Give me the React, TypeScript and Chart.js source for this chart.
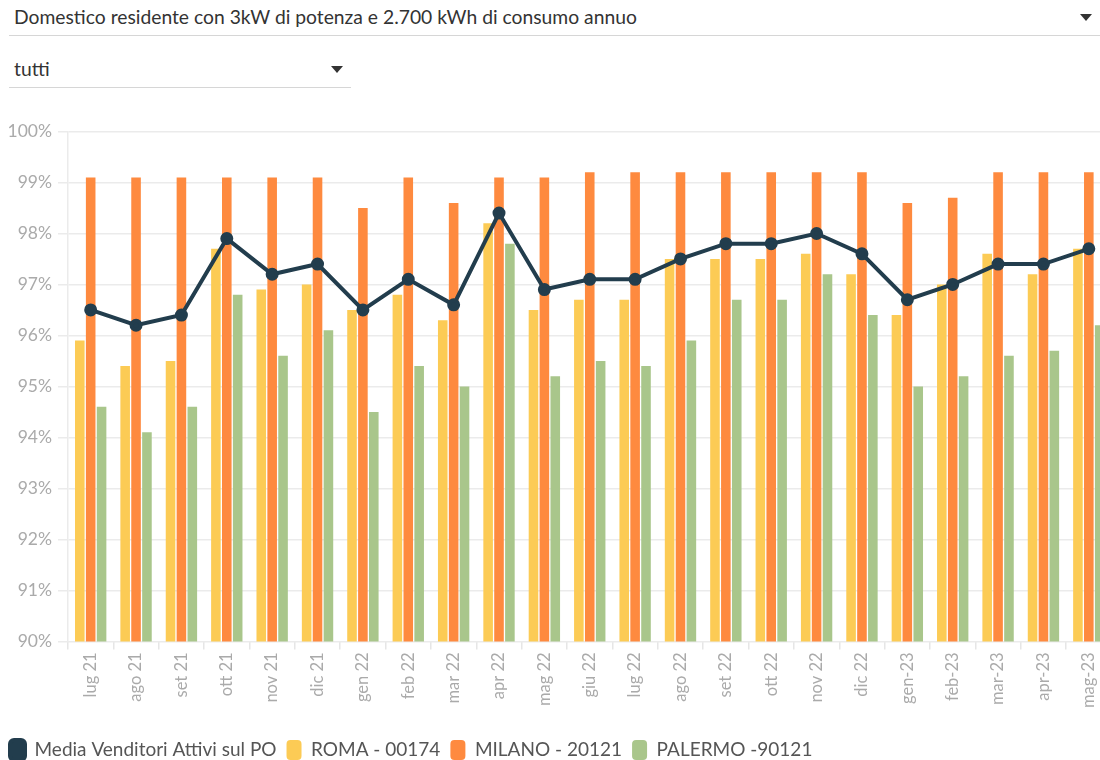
import React, { useEffect, useRef } from "react";
import { Chart, registerables } from "chart.js";

Chart.register(...registerables);

const categories = [
  "lug 21", "ago 21", "set 21", "ott 21", "nov 21", "dic 21", "gen 22", "feb 22",
  "mar 22", "apr 22", "mag 22", "giu 22", "lug 22", "ago 22", "set 22", "ott 22",
  "nov 22", "dic 22", "gen-23", "feb-23", "mar-23", "apr-23", "mag-23",
];

const mediaValues = [
  96.5, 96.2, 96.4, 97.9, 97.2, 97.4, 96.5, 97.1, 96.6, 98.4, 96.9, 97.1,
  97.1, 97.5, 97.8, 97.8, 98.0, 97.6, 96.7, 97.0, 97.4, 97.4, 97.7,
];

const romaValues = [
  95.9, 95.4, 95.5, 97.7, 96.9, 97.0, 96.5, 96.8, 96.3, 98.2, 96.5, 96.7,
  96.7, 97.5, 97.5, 97.5, 97.6, 97.2, 96.4, 97.0, 97.6, 97.2, 97.7,
];

const milanoValues = [
  99.1, 99.1, 99.1, 99.1, 99.1, 99.1, 98.5, 99.1, 98.6, 99.1, 99.1, 99.2,
  99.2, 99.2, 99.2, 99.2, 99.2, 99.2, 98.6, 98.7, 99.2, 99.2, 99.2,
];

const palermoValues = [
  94.6, 94.1, 94.6, 96.8, 95.6, 96.1, 94.5, 95.4, 95.0, 97.8, 95.2, 95.5,
  95.4, 95.9, 96.7, 96.7, 97.2, 96.4, 95.0, 95.2, 95.6, 95.7, 96.2,
];

const yTicks = [90, 91, 92, 93, 94, 95, 96, 97, 98, 99, 100];

const FONT = "Lato, 'Source Sans Pro', sans-serif";

function Dropdown(props: { text: string; left: number; top: number; width: number }) {
  const { text, left, top, width } = props;
  return (
    <div
      style={{
        position: "absolute",
        left,
        top,
        width,
        height: 36,
        borderBottom: "1.5px solid #d6d6d6",
        boxSizing: "border-box",
      }}
    >
      <span
        style={{
          position: "absolute",
          left: 5,
          top: 5,
          fontSize: 19.3,
          lineHeight: "24px",
          color: "#333",
          whiteSpace: "nowrap",
        }}
      >
        {text}
      </span>
      <span
        style={{
          position: "absolute",
          right: 8,
          top: 14,
          width: 0,
          height: 0,
          borderLeft: "6px solid transparent",
          borderRight: "6px solid transparent",
          borderTop: "7px solid #333",
        }}
      />
    </div>
  );
}

export default function App() {
  const canvasRef = useRef<HTMLCanvasElement | null>(null);

  useEffect(() => {
    if (!canvasRef.current) return;
    const chart = new Chart(canvasRef.current, {
      type: "bar",
      data: {
        labels: categories,
        datasets: [
          {
            type: "line",
            label: "Media Venditori Attivi sul PO",
            data: mediaValues,
            borderColor: "#223d4d",
            backgroundColor: "#223d4d",
            borderWidth: 4,
            pointRadius: 4.5,
            pointBackgroundColor: "#223d4d",
            pointBorderColor: "#223d4d",
            tension: 0,
            order: 0,
          } as any,
          {
            type: "bar",
            label: "ROMA - 00174",
            data: romaValues,
            backgroundColor: "#fccb55",
            order: 1,
          },
          {
            type: "bar",
            label: "MILANO - 20121",
            data: milanoValues,
            backgroundColor: "#fe8a3f",
            order: 1,
          },
          {
            type: "bar",
            label: "PALERMO -90121",
            data: palermoValues,
            backgroundColor: "#a9c68b",
            order: 1,
          },
        ],
      },
      options: {
        responsive: false,
        animation: false,
        datasets: {
          bar: {
            categoryPercentage: 0.72,
            barPercentage: 0.88,
          },
        },
        layout: { padding: { top: 0, left: 0, right: 0, bottom: 0 } },
        plugins: {
          tooltip: { enabled: false },
          legend: {
            position: "bottom",
            align: "start",
            labels: {
              boxWidth: 15,
              boxHeight: 20,
              useBorderRadius: true,
              borderRadius: 4,
              color: "#555",
              padding: 10,
              font: { family: FONT, size: 19 },
            },
          },
        },
        scales: {
          x: {
            offset: true,
            afterFit: (scale: any) => {
              scale.height += 19;
            },
            grid: {
              display: true,
              drawOnChartArea: false,
              drawTicks: true,
              tickLength: 8,
              color: "#e6e6e6",
              lineWidth: 1.5,
            },
            border: { display: false },
            ticks: {
              minRotation: 90,
              maxRotation: 90,
              autoSkip: false,
              color: "#aaa",
              padding: 3,
              font: { family: FONT, size: 16.5 },
            },
          },
          y: {
            min: yTicks[0],
            max: yTicks[yTicks.length - 1],
            afterBuildTicks: (axis: any) => {
              axis.ticks = yTicks.map((v) => ({ value: v }));
            },
            afterFit: (scale: any) => {
              scale.width = 68;
            },
            grid: {
              color: "#ebebeb",
              lineWidth: 1.5,
              tickLength: 10,
            },
            border: { display: true, color: "#ebebeb", width: 1.5 },
            ticks: {
              color: "#aaa",
              padding: 6,
              font: { family: FONT, size: 17.5 },
              callback: (v: any) => v + "%",
            },
          },
        },
      },
    });
    return () => chart.destroy();
  }, []);

  return (
    <div
      style={{
        position: "fixed",
        left: 0,
        top: 0,
        width: 1100,
        height: 760,
        overflow: "hidden",
        background: "#fff",
        fontFamily: FONT,
      }}
    >
      <Dropdown text="Domestico residente con 3kW di potenza e 2.700 kWh di consumo annuo" left={9} top={0} width={1091} />
      <Dropdown text="tutti" left={9} top={52} width={342} />
      <div style={{ position: "absolute", left: 0, top: 115, width: 1120, height: 655 }}>
        <canvas ref={canvasRef} width={1120} height={655} />
      </div>
    </div>
  );
}
